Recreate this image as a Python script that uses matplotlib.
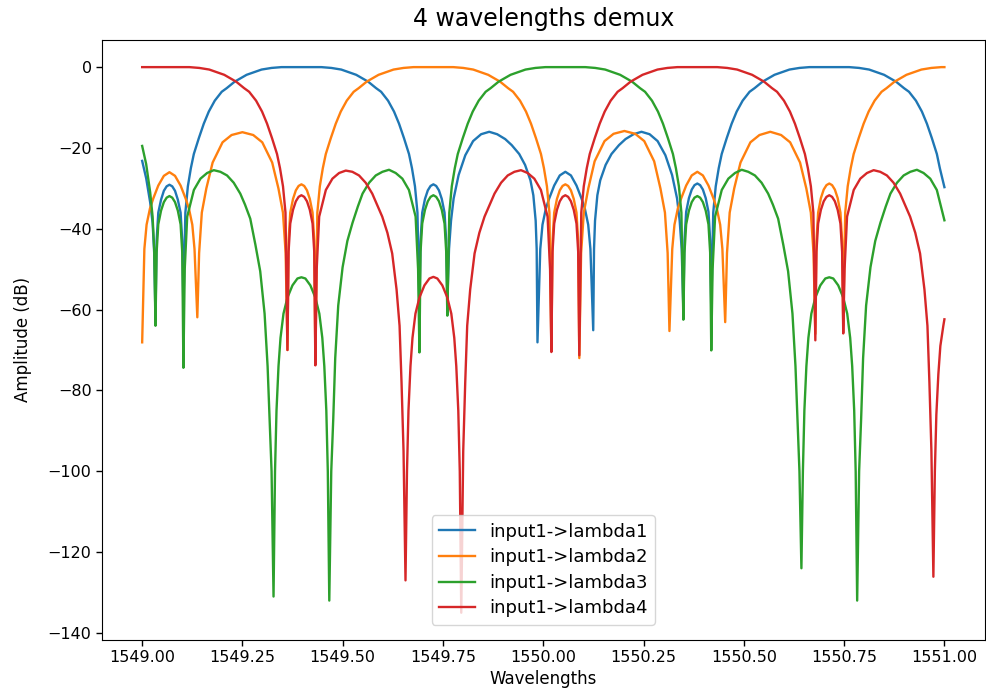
import matplotlib
matplotlib.use("Agg")
import matplotlib.pyplot as plt

# (wavelength nm, amplitude dB)
lambda1_pts = [
    (1549.0000, -23.2), (1549.0100, -27.5), (1549.0200, -33.5), (1549.0260, -38.5), (1549.0300, -46), (1549.0332, -62),
    (1549.0360, -43), (1549.0402, -36), (1549.0471, -32.8), (1549.0541, -30.6), (1549.0610, -29.5), (1549.0680, -29.1),
    (1549.0750, -29.5), (1549.0819, -30.6), (1549.0889, -32.8), (1549.0958, -36), (1549.1000, -43), (1549.1028, -60),
    (1549.1077, -36), (1549.1139, -29.5), (1549.1214, -25), (1549.1288, -21.5), (1549.1412, -17.6), (1549.1536, -14),
    (1549.1661, -11), (1549.1810, -8.3), (1549.1983, -6.1), (1549.2108, -5.2), (1549.2306, -3.6), (1549.2480, -2.6),
    (1549.2604, -1.9), (1549.2803, -1.2), (1549.2977, -0.6), (1549.3225, -0.2), (1549.3473, 0), (1549.3970, 0),
    (1549.4467, 0), (1549.4715, -0.2), (1549.4963, -0.6), (1549.5137, -1.2), (1549.5336, -1.9), (1549.5460, -2.6),
    (1549.5634, -3.6), (1549.5832, -5.2), (1549.5957, -6.1), (1549.6130, -8.3), (1549.6279, -11), (1549.6404, -14),
    (1549.6528, -17.6), (1549.6652, -21.5), (1549.6726, -25), (1549.6801, -29.5), (1549.6863, -36), (1549.6912, -60),
    (1549.6940, -43), (1549.6982, -36), (1549.7051, -32.6), (1549.7121, -30.5), (1549.7190, -29.4), (1549.7260, -29),
    (1549.7330, -29.4), (1549.7399, -30.5), (1549.7469, -32.6), (1549.7538, -36), (1549.7580, -43), (1549.7608, -58),
    (1549.7650, -45), (1549.7700, -38), (1549.7765, -32.5), (1549.7889, -26.7), (1549.8056, -21.8), (1549.8250, -18.3),
    (1549.8450, -16.6), (1549.8652, -16.0), (1549.8850, -16.6), (1549.9050, -17.8), (1549.9213, -19.3), (1549.9400, -21.5),
    (1549.9546, -24.2), (1549.9680, -28), (1549.9752, -31.7), (1549.9810, -38), (1549.9835, -45), (1549.9855, -68.1),
    (1549.9925, -45), (1549.9980, -39), (1550.0064, -35), (1550.0147, -32.5), (1550.0272, -29.3), (1550.0411, -26.8),
    (1550.0550, -25.9), (1550.0689, -26.8), (1550.0828, -29.3), (1550.0953, -32.5), (1550.1036, -35), (1550.1120, -39),
    (1550.1175, -45), (1550.1245, -65.1),
    (1550.1265, -45), (1550.1290, -38), (1550.1348, -31.7), (1550.1420, -28), (1550.1554, -24.2), (1550.1700, -21.5),
    (1550.1887, -19.3), (1550.2050, -17.8), (1550.2250, -16.6), (1550.2448, -16.0), (1550.2650, -16.6), (1550.2850, -18.3),
    (1550.3044, -21.8), (1550.3211, -26.7), (1550.3335, -32.5), (1550.3400, -38), (1550.3450, -45), (1550.3492, -60),
    (1550.3520, -42.8), (1550.3562, -35.8), (1550.3631, -32.4), (1550.3701, -30.3), (1550.3770, -29.2), (1550.3840, -28.8),
    (1550.3910, -29.2), (1550.3979, -30.3), (1550.4049, -32.4), (1550.4118, -35.8), (1550.4160, -42.8), (1550.4188, -60),
    (1550.4237, -36), (1550.4299, -29.5), (1550.4374, -25), (1550.4448, -21.5), (1550.4572, -17.6), (1550.4696, -14),
    (1550.4821, -11), (1550.4970, -8.3), (1550.5143, -6.1), (1550.5268, -5.2), (1550.5466, -3.6), (1550.5640, -2.6),
    (1550.5764, -1.9), (1550.5963, -1.2), (1550.6137, -0.6), (1550.6385, -0.2), (1550.6633, 0), (1550.7130, 0),
    (1550.7627, 0), (1550.7875, -0.2), (1550.8123, -0.6), (1550.8297, -1.2), (1550.8496, -1.9), (1550.8620, -2.6),
    (1550.8794, -3.6), (1550.8992, -5.2), (1550.9117, -6.1), (1550.9290, -8.3), (1550.9439, -11), (1550.9564, -14),
    (1550.9688, -17.6), (1550.9812, -21.5), (1550.9886, -25), (1551.0000, -29.7),
]

lambda2_pts = [
    (1549.0000, -68.1), (1549.0055, -45), (1549.0110, -39), (1549.0194, -35), (1549.0277, -32.5), (1549.0402, -29.3),
    (1549.0541, -26.9), (1549.0680, -26), (1549.0819, -26.9), (1549.0958, -29.3), (1549.1083, -32.5), (1549.1166, -35),
    (1549.1250, -39), (1549.1305, -45), (1549.1375, -61.9),
    (1549.1420, -46), (1549.1487, -36), (1549.1600, -30), (1549.1757, -23.6), (1549.2004, -18.6), (1549.2229, -16.8),
    (1549.2499, -16.1), (1549.2769, -16.8), (1549.2994, -18.6), (1549.3241, -23.6), (1549.3397, -30), (1549.3510, -36),
    (1549.3577, -46), (1549.3622, -70),
    (1549.3650, -43), (1549.3692, -36), (1549.3761, -32.6), (1549.3831, -30.5), (1549.3900, -29.4), (1549.3970, -29),
    (1549.4040, -29.4), (1549.4109, -30.5), (1549.4179, -32.6), (1549.4248, -36), (1549.4290, -43), (1549.4318, -72),
    (1549.4367, -36), (1549.4429, -29.5), (1549.4504, -25), (1549.4578, -21.5), (1549.4702, -17.6), (1549.4826, -14),
    (1549.4951, -11), (1549.5100, -8.3), (1549.5273, -6.1), (1549.5398, -5.2), (1549.5596, -3.6), (1549.5770, -2.6),
    (1549.5894, -1.9), (1549.6093, -1.2), (1549.6267, -0.6), (1549.6515, -0.2), (1549.6763, 0), (1549.7260, 0),
    (1549.7757, 0), (1549.8005, -0.2), (1549.8253, -0.6), (1549.8427, -1.2), (1549.8626, -1.9), (1549.8750, -2.6),
    (1549.8924, -3.6), (1549.9122, -5.2), (1549.9247, -6.1), (1549.9420, -8.3), (1549.9569, -11), (1549.9694, -14),
    (1549.9818, -17.6), (1549.9942, -21.5), (1550.0016, -25), (1550.0091, -29.5), (1550.0153, -36), (1550.0202, -70),
    (1550.0230, -43), (1550.0272, -36), (1550.0341, -32.6), (1550.0411, -30.5), (1550.0480, -29.4), (1550.0550, -29),
    (1550.0620, -29.4), (1550.0689, -30.5), (1550.0759, -32.6), (1550.0828, -36), (1550.0870, -43), (1550.0898, -72),
    (1550.0943, -46), (1550.1010, -36), (1550.1123, -30), (1550.1280, -23.3), (1550.1527, -18.3), (1550.1752, -16.5),
    (1550.2022, -15.8), (1550.2292, -16.5), (1550.2517, -18.3), (1550.2764, -23.3), (1550.2920, -30), (1550.3033, -36),
    (1550.3100, -46), (1550.3145, -65.3),
    (1550.3215, -45), (1550.3270, -39), (1550.3354, -35), (1550.3437, -32.5), (1550.3562, -29.3), (1550.3701, -26.8),
    (1550.3840, -25.9), (1550.3979, -26.8), (1550.4118, -29.3), (1550.4243, -32.5), (1550.4326, -35), (1550.4410, -39),
    (1550.4465, -45), (1550.4535, -63.1),
    (1550.4580, -46), (1550.4647, -36), (1550.4760, -30), (1550.4917, -23.6), (1550.5164, -18.6), (1550.5389, -16.8),
    (1550.5659, -16.0), (1550.5929, -16.8), (1550.6154, -18.6), (1550.6401, -23.6), (1550.6557, -30), (1550.6670, -36),
    (1550.6737, -46), (1550.6782, -66),
    (1550.6810, -43), (1550.6852, -36), (1550.6921, -32.4), (1550.6991, -30.3), (1550.7060, -29.2), (1550.7130, -28.8),
    (1550.7200, -29.2), (1550.7269, -30.3), (1550.7339, -32.4), (1550.7408, -36), (1550.7450, -43), (1550.7478, -64),
    (1550.7527, -36), (1550.7589, -29.5), (1550.7664, -25), (1550.7738, -21.5), (1550.7862, -17.6), (1550.7986, -14),
    (1550.8111, -11), (1550.8260, -8.3), (1550.8433, -6.1), (1550.8558, -5.2), (1550.8756, -3.6), (1550.8930, -2.6),
    (1550.9054, -1.9), (1550.9253, -1.2), (1550.9427, -0.6), (1550.9675, -0.2), (1550.9923, 0), (1551.0000, 0),
]

lambda3_pts = [
    (1549.0000, -19.5), (1549.0100, -24), (1549.0200, -31), (1549.0260, -37), (1549.0300, -45), (1549.0332, -64),
    (1549.0360, -45.9), (1549.0402, -38.9), (1549.0471, -35.5), (1549.0541, -33.4), (1549.0610, -32.3), (1549.0680, -31.9),
    (1549.0750, -32.3), (1549.0819, -33.4), (1549.0889, -35.5), (1549.0958, -38.9), (1549.1000, -45.9), (1549.1028, -74.4),
    (1549.1061, -50), (1549.1123, -37), (1549.1289, -30.4), (1549.1453, -27.6), (1549.1619, -26.2), (1549.1786, -25.5),
    (1549.1950, -25.9), (1549.2116, -26.8), (1549.2282, -28.6), (1549.2446, -31.3), (1549.2563, -34), (1549.2695, -37.5),
    (1549.2824, -44), (1549.2943, -50.5), (1549.3052, -61), (1549.3127, -74), (1549.3176, -87), (1549.3226, -100),
    (1549.3275, -131),
    (1549.3312, -100), (1549.3349, -85), (1549.3399, -74), (1549.3449, -67), (1549.3523, -61), (1549.3623, -57),
    (1549.3747, -54), (1549.3871, -52.3), (1549.3970, -52), (1549.4069, -52.3), (1549.4193, -54), (1549.4317, -57),
    (1549.4417, -61), (1549.4491, -67), (1549.4541, -74), (1549.4591, -85), (1549.4628, -100), (1549.4665, -132),
    (1549.4714, -100), (1549.4764, -87), (1549.4813, -72), (1549.4888, -59), (1549.4997, -49.5), (1549.5116, -43),
    (1549.5245, -38.5), (1549.5377, -34.5), (1549.5494, -31.3), (1549.5658, -28.6), (1549.5824, -26.8), (1549.5990, -25.9),
    (1549.6154, -25.4), (1549.6321, -26.2), (1549.6487, -27.6), (1549.6651, -30.4), (1549.6817, -37), (1549.6879, -50),
    (1549.6912, -70.6),
    (1549.6940, -45.7), (1549.6982, -38.7), (1549.7051, -35.3), (1549.7121, -33.2), (1549.7190, -32.1), (1549.7260, -31.7),
    (1549.7330, -32.1), (1549.7399, -33.2), (1549.7469, -35.3), (1549.7538, -38.7), (1549.7580, -45.7), (1549.7608, -61.5),
    (1549.7657, -36), (1549.7719, -29.5), (1549.7794, -25), (1549.7868, -21.5), (1549.7992, -17.6), (1549.8116, -14),
    (1549.8241, -11), (1549.8390, -8.3), (1549.8563, -6.1), (1549.8688, -5.2), (1549.8886, -3.6), (1549.9060, -2.6),
    (1549.9184, -1.9), (1549.9383, -1.2), (1549.9557, -0.6), (1549.9805, -0.2), (1550.0053, 0), (1550.0550, 0),
    (1550.1047, 0), (1550.1295, -0.2), (1550.1543, -0.6), (1550.1717, -1.2), (1550.1916, -1.9), (1550.2040, -2.6),
    (1550.2214, -3.6), (1550.2412, -5.2), (1550.2537, -6.1), (1550.2710, -8.3), (1550.2859, -11), (1550.2984, -14),
    (1550.3108, -17.6), (1550.3232, -21.5), (1550.3306, -25), (1550.3381, -29.5), (1550.3443, -36), (1550.3492, -62.5),
    (1550.3520, -45.9), (1550.3562, -38.9), (1550.3631, -35.5), (1550.3701, -33.4), (1550.3770, -32.3), (1550.3840, -31.9),
    (1550.3910, -32.3), (1550.3979, -33.4), (1550.4049, -35.5), (1550.4118, -38.9), (1550.4160, -45.9), (1550.4188, -70.1),
    (1550.4221, -50), (1550.4283, -37), (1550.4449, -30.4), (1550.4613, -27.6), (1550.4779, -26.2), (1550.4946, -25.4),
    (1550.5110, -25.9), (1550.5276, -26.8), (1550.5442, -28.6), (1550.5606, -31.3), (1550.5723, -34), (1550.5855, -37.5),
    (1550.5984, -44), (1550.6103, -50.5), (1550.6212, -61), (1550.6287, -74), (1550.6336, -87), (1550.6386, -100),
    (1550.6435, -124),
    (1550.6472, -100), (1550.6509, -85), (1550.6559, -74), (1550.6609, -67), (1550.6683, -61), (1550.6783, -57),
    (1550.6907, -54), (1550.7031, -52.3), (1550.7130, -52), (1550.7229, -52.3), (1550.7353, -54), (1550.7477, -57),
    (1550.7577, -61), (1550.7651, -67), (1550.7701, -74), (1550.7751, -85), (1550.7788, -100), (1550.7825, -132),
    (1550.7874, -100), (1550.7924, -87), (1550.7973, -72), (1550.8048, -59), (1550.8157, -49.5), (1550.8276, -43),
    (1550.8405, -38.5), (1550.8537, -34.5), (1550.8654, -31.3), (1550.8818, -28.6), (1550.8984, -26.8), (1550.9150, -25.9),
    (1550.9314, -25.4), (1550.9481, -26.2), (1550.9647, -27.6), (1550.9811, -30.4), (1551.0000, -37.9),
]

lambda4_pts = [
    (1549.0000, 0), (1549.0680, 0), (1549.1177, 0), (1549.1425, -0.2), (1549.1673, -0.6), (1549.1847, -1.2),
    (1549.2046, -1.9), (1549.2170, -2.6), (1549.2344, -3.6), (1549.2542, -5.2), (1549.2667, -6.1), (1549.2840, -8.3),
    (1549.2989, -11), (1549.3114, -14), (1549.3238, -17.6), (1549.3362, -21.5), (1549.3436, -25), (1549.3511, -29.5),
    (1549.3573, -36), (1549.3622, -70),
    (1549.3650, -45.7), (1549.3692, -38.7), (1549.3761, -35.3), (1549.3831, -33.2), (1549.3900, -32.1), (1549.3970, -31.7),
    (1549.4040, -32.1), (1549.4109, -33.2), (1549.4179, -35.3), (1549.4248, -38.7), (1549.4290, -45.7), (1549.4318, -73.8),
    (1549.4351, -50), (1549.4413, -37), (1549.4579, -30.4), (1549.4743, -27.6), (1549.4909, -26.2), (1549.5076, -25.6),
    (1549.5240, -25.9), (1549.5406, -26.8), (1549.5572, -28.6), (1549.5736, -31.3), (1549.5853, -34), (1549.5985, -37),
    (1549.6114, -41), (1549.6233, -46.1), (1549.6342, -55), (1549.6417, -64), (1549.6466, -78), (1549.6516, -95),
    (1549.6565, -127),
    (1549.6602, -100), (1549.6639, -85), (1549.6689, -74), (1549.6739, -67), (1549.6813, -61), (1549.6913, -57),
    (1549.7037, -54), (1549.7161, -52.3), (1549.7260, -51.9), (1549.7359, -52.3), (1549.7483, -54), (1549.7607, -57),
    (1549.7707, -61), (1549.7781, -67), (1549.7831, -74), (1549.7881, -85), (1549.7918, -100), (1549.7955, -135),
    (1549.8004, -95), (1549.8054, -78), (1549.8103, -64), (1549.8178, -55), (1549.8287, -46.1), (1549.8406, -41),
    (1549.8535, -37), (1549.8667, -34), (1549.8784, -31.3), (1549.8948, -28.6), (1549.9114, -26.8), (1549.9280, -25.9),
    (1549.9444, -25.5), (1549.9611, -26.2), (1549.9777, -27.6), (1549.9941, -30.4), (1550.0107, -37), (1550.0169, -50),
    (1550.0202, -70.5),
    (1550.0230, -45.7), (1550.0272, -38.7), (1550.0341, -35.3), (1550.0411, -33.2), (1550.0480, -32.1), (1550.0550, -31.7),
    (1550.0620, -32.1), (1550.0689, -33.2), (1550.0759, -35.3), (1550.0828, -38.7), (1550.0870, -45.7), (1550.0898, -71.3),
    (1550.0947, -36), (1550.1009, -29.5), (1550.1084, -25), (1550.1158, -21.5), (1550.1282, -17.6), (1550.1406, -14),
    (1550.1531, -11), (1550.1680, -8.3), (1550.1853, -6.1), (1550.1978, -5.2), (1550.2176, -3.6), (1550.2350, -2.6),
    (1550.2474, -1.9), (1550.2673, -1.2), (1550.2847, -0.6), (1550.3095, -0.2), (1550.3343, 0), (1550.3840, 0),
    (1550.4337, 0), (1550.4585, -0.2), (1550.4833, -0.6), (1550.5007, -1.2), (1550.5206, -1.9), (1550.5330, -2.6),
    (1550.5504, -3.6), (1550.5702, -5.2), (1550.5827, -6.1), (1550.6000, -8.3), (1550.6149, -11), (1550.6274, -14),
    (1550.6398, -17.6), (1550.6522, -21.5), (1550.6596, -25), (1550.6671, -29.5), (1550.6733, -36), (1550.6782, -67.6),
    (1550.6810, -45.7), (1550.6852, -38.7), (1550.6921, -35.3), (1550.6991, -33.2), (1550.7060, -32.1), (1550.7130, -31.7),
    (1550.7200, -32.1), (1550.7269, -33.2), (1550.7339, -35.3), (1550.7408, -38.7), (1550.7450, -45.7), (1550.7478, -65.9),
    (1550.7511, -50), (1550.7573, -37), (1550.7739, -30.4), (1550.7903, -27.6), (1550.8069, -26.2), (1550.8236, -25.5),
    (1550.8400, -25.9), (1550.8566, -26.8), (1550.8732, -28.6), (1550.8896, -31.3), (1550.9013, -34), (1550.9145, -37),
    (1550.9274, -41), (1550.9393, -46.1), (1550.9502, -55), (1550.9577, -64), (1550.9626, -78), (1550.9676, -95),
    (1550.9725, -126.1),
    (1550.9762, -100), (1550.9799, -86), (1550.9849, -76), (1550.9899, -69), (1550.9973, -64), (1551.0000, -62.4),
]

series_labels = ["input1->lambda1", "input1->lambda2", "input1->lambda3", "input1->lambda4"]
series_data = [lambda1_pts, lambda2_pts, lambda3_pts, lambda4_pts]

plt.rcParams["font.size"] = 11.5

fig = plt.figure(figsize=(9.86, 6.93), dpi=100)
ax = fig.add_axes([0.1035, 0.0765, 0.895, 0.866])
for pts, lab in zip(series_data, series_labels):
    xs = [p[0] for p in pts]
    ys = [p[1] for p in pts]
    ax.plot(xs, ys, label=lab, linewidth=1.7)

ax.ticklabel_format(axis="x", useOffset=False)
ax.tick_params(labelsize=11.5, length=4, width=1)
ax.set_title("4 wavelengths demux", fontsize=17, pad=10)
ax.set_xlabel("Wavelengths", fontsize=12, labelpad=3)
ax.set_ylabel("Amplitude (dB)", fontsize=12, labelpad=11)
ax.legend(loc="lower center", fontsize=13, labelspacing=0.42, borderaxespad=0.85)
fig.savefig("out.png", dpi=100)
